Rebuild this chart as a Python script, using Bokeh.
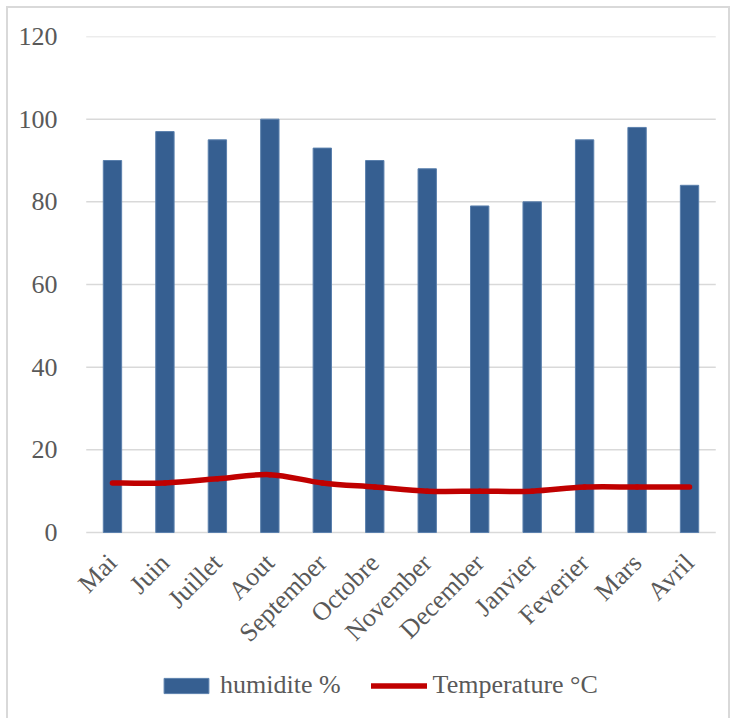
import math
from bokeh.plotting import figure
from bokeh.models import (FactorRange, Range1d, FixedTicker, Legend, LegendItem,
                          ColumnDataSource)
from bokeh.embed import file_html
from bokeh.resources import INLINE

months = ["Mai", "Juin", "Juillet", "Aout", "September", "Octobre", "November",
          "December", "Janvier", "Feverier", "Mars", "Avril"]
humidite = [90, 97, 95, 100, 93, 90, 88, 79, 80, 95, 98, 84]
temperature = [12, 12, 13, 14, 12, 11, 10, 10, 10, 11, 11, 11]
y_ticks = [0, 20, 40, 60, 80, 100, 120]

FONT = "Liberation Serif"
FS = "26px"
GRAY = "#595959"
GRID = "#d9d9d9"
BLUE = "#365f91"
RED = "#c00000"

# frame spans the full lower area; y=0 sits at ~532px, the axis is pinned there
p = figure(width=735, height=718,
           x_range=FactorRange(*months, range_padding=0.3, range_padding_units="absolute"),
           y_range=Range1d(-45, 120), output_backend="svg", toolbar_location=None,
           min_border_left=70, min_border_right=4, min_border_top=36,
           min_border_bottom=0)
p.outline_line_color = None
p.background_fill_alpha = 0
p.border_fill_alpha = 0
g = "linear-gradient(#d9d9d9,#d9d9d9)"
p.styles = {"background": f"{g} 6px 6px / 2px 900px no-repeat, "
                          f"{g} 6px 6px / 724px 2px no-repeat, "
                          f"{g} 728px 6px / 2px 900px no-repeat, white"}

# horizontal gridlines (including the category axis line at 0) across the category span
n = len(months)
p.segment(x0=[0] * len(y_ticks), x1=[n] * len(y_ticks), y0=y_ticks, y1=y_ticks,
          line_color=GRID, line_width=1.5)

bars = p.vbar(x=months, top=humidite, width=0.35, fill_color=BLUE,
              line_color="#5b80ad", line_width=1)

# smooth temperature line via Catmull-Rom style bezier segments
xs = [i + 0.5 for i in range(n)]
x0, y0, x1, y1, cx0, cy0, cx1, cy1 = [], [], [], [], [], [], [], []
for i in range(n - 1):
    xp = xs[i - 1] if i > 0 else xs[i]
    yp = temperature[i - 1] if i > 0 else temperature[i]
    xn = xs[i + 2] if i + 2 < n else xs[i + 1]
    yn = temperature[i + 2] if i + 2 < n else temperature[i + 1]
    x0.append(xs[i]); y0.append(temperature[i])
    x1.append(xs[i + 1]); y1.append(temperature[i + 1])
    cx0.append(xs[i] + (xs[i + 1] - xp) / 6); cy0.append(temperature[i] + (temperature[i + 1] - yp) / 6)
    cx1.append(xs[i + 1] - (xn - xs[i]) / 6); cy1.append(temperature[i + 1] - (yn - temperature[i]) / 6)
src = ColumnDataSource(dict(x0=x0, y0=y0, x1=x1, y1=y1, cx0=cx0, cy0=cy0, cx1=cx1, cy1=cy1))
curve = p.bezier(x0="x0", y0="y0", x1="x1", y1="y1", cx0="cx0", cy0="cy0",
                 cx1="cx1", cy1="cy1", source=src, line_color=RED, line_width=5.5,
                 line_cap="round", line_join="round")

p.yaxis.ticker = FixedTicker(ticks=y_ticks)
p.xgrid.grid_line_color = None
p.ygrid.grid_line_color = None

for ax in (p.xaxis, p.yaxis):
    ax.major_label_text_font = FONT
    ax.major_label_text_font_size = FS
    ax.major_label_text_color = GRAY
    ax.major_tick_line_color = None
    ax.minor_tick_line_color = None
    ax.axis_line_color = None
p.yaxis.major_label_standoff = 7
p.xaxis.fixed_location = 0
p.xaxis.major_label_orientation = math.pi / 4
p.xaxis.major_label_standoff = 20

legend = Legend(items=[LegendItem(label="humidite %", renderers=[bars]),
                       LegendItem(label="Temperature °C", renderers=[curve])],
                orientation="horizontal", location=(88, 18),
                label_text_font=FONT, label_text_font_size=FS,
                label_text_color=GRAY, glyph_width=56, glyph_height=19,
                label_standoff=6, spacing=30, padding=0, margin=0,
                border_line_color=None, background_fill_alpha=0)
p.add_layout(legend, "center")

open("out.html", "w").write(file_html(p, INLINE))
